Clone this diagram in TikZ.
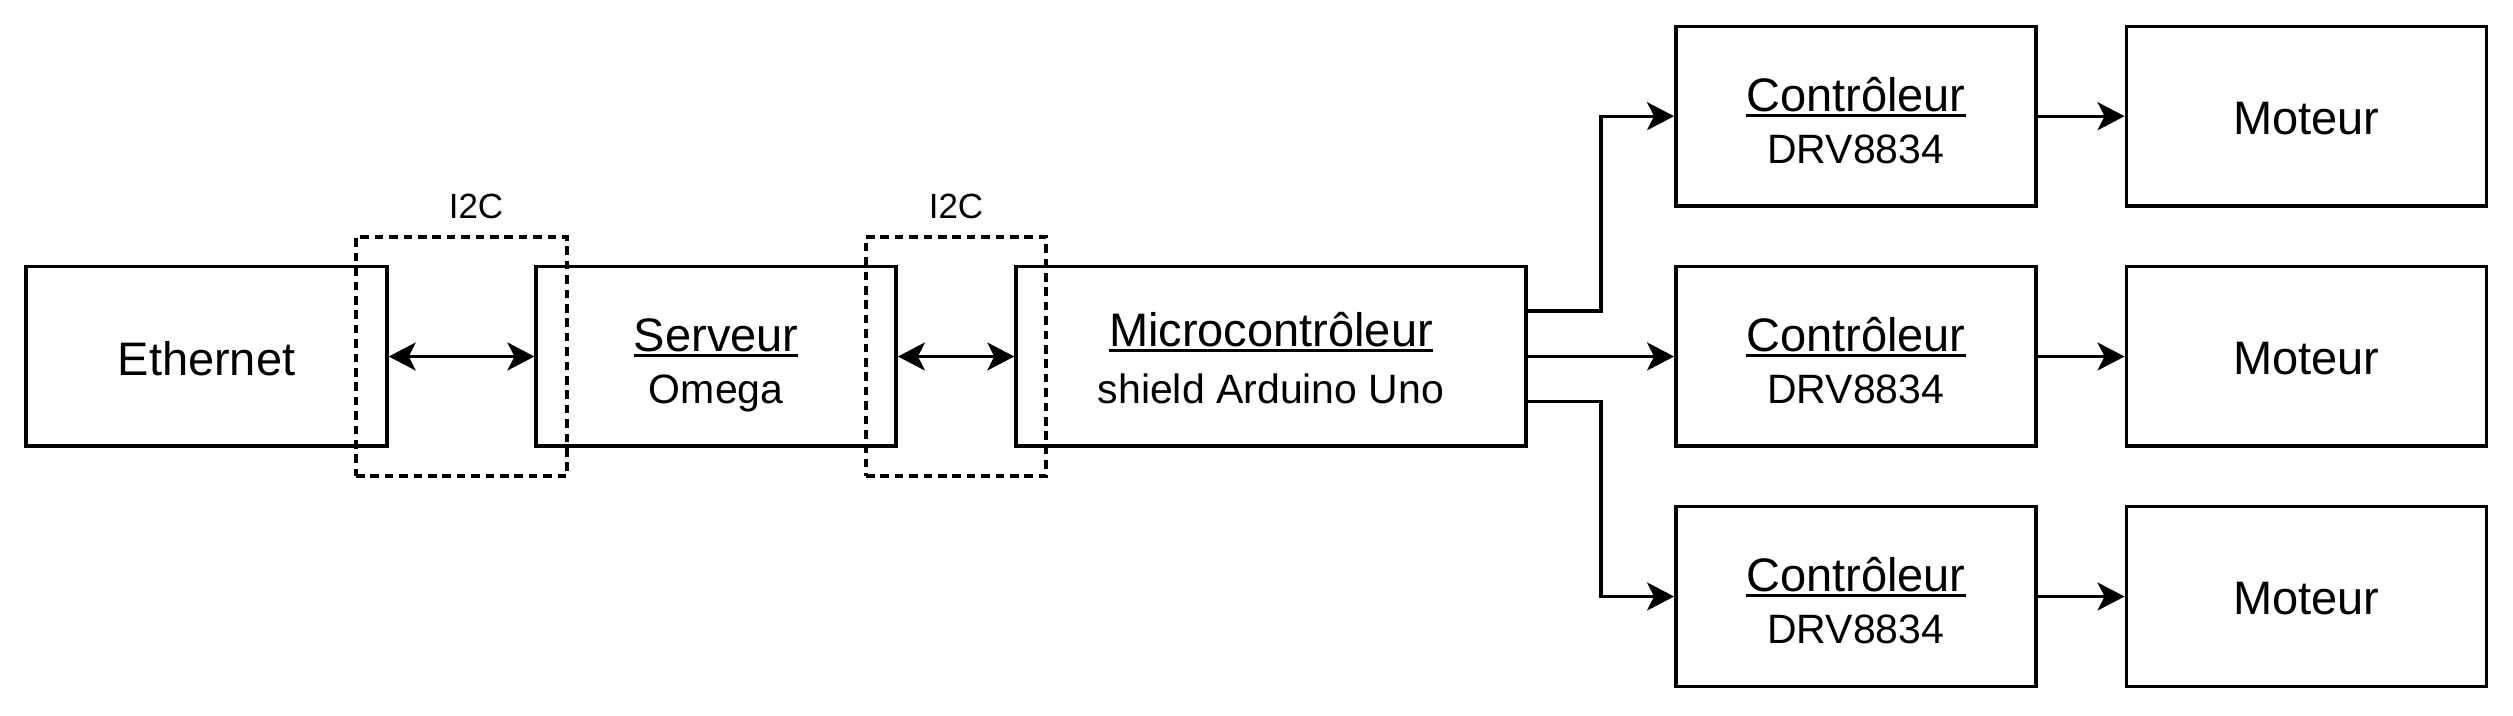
\documentclass[tikz,border=0pt]{standalone}
\usepackage{fontspec}
\setmainfont{Liberation Sans}
\usetikzlibrary{arrows.meta,calc}
\newcommand{\mainsz}{\fontsize{23.5pt}{26pt}\selectfont}
\newcommand{\subsz}{\fontsize{20.5pt}{26pt}\selectfont}
\newcommand{\ulbox}[1]{\setbox0\hbox{#1}\rlap{\rule[-2.9pt]{\wd0}{1.5pt}}\box0}
% #1 first line (underlined), #2 second line, #3 strut height, #4 extra gap
\newcommand{\twolines}[4]{\mainsz\rule{0pt}{#3}\ulbox{#1}\\[#4]\subsz\rule[-5pt]{0pt}{5pt}#2}
\newcommand{\lowered}[1]{\raisebox{-1pt}[\height][0pt]{#1}}
\tikzset{
  box/.style={draw, line width=1.75pt, minimum width=180pt, minimum height=89.75pt,
    inner sep=0pt, align=center, font=\mainsz},
  dbox/.style={draw, line width=1.6pt, dash pattern=on 4.3pt off 2.9pt, inner sep=0pt,
    minimum height=119.5pt},
  lbl/.style={font=\fontsize{17.5pt}{21pt}\selectfont, anchor=base, inner sep=0pt},
  tip/.tip={Stealth[length=13.5pt, width=14pt, inset=3.5pt]},
  arr/.style={line width=1.6pt, -tip},
  darr/.style={line width=1.6pt, tip-tip}
}
\begin{document}
\begin{tikzpicture}[x=0.5pt, y=-0.5pt]
\useasboundingbox (0,0) rectangle (2513,716);
% main row
\node[box, minimum width=180.5pt] (eth) at (206.5,356.5) {\lowered{Ethernet}};
\node[box] (srv) at (716.2,356.5) {\twolines{Serveur}{Omega}{26.05pt}{0pt}};
\node[box, minimum width=255pt] (mcu) at (1271,356.5) {\twolines{Microcontrôleur}{shield Arduino Uno}{23.55pt}{2.35pt}};
% dashed I2C frames
\node[dbox, minimum width=105.5pt] (d1) at (461.5,356.5) {};
\node[dbox, minimum width=90pt] (d2) at (956,356.5) {};
\node[lbl] (i1) at (476,219) {I2C};
\node[lbl] (i2) at (956,219) {I2C};
% controllers and motors
\node[box] (c1) at (1855.8,116.2) {\twolines{Contrôleur}{DRV8834}{26.05pt}{0pt}};
\node[box] (c2) at (1855.8,356.5) {\twolines{Contrôleur}{DRV8834}{26.05pt}{0pt}};
\node[box] (c3) at (1855.8,596.5) {\twolines{Contrôleur}{DRV8834}{26.05pt}{0pt}};
\node[box] (m1) at (2306.3,116.2) {\lowered{Moteur}};
\node[box] (m2) at (2306.3,356.5) {\lowered{Moteur}};
\node[box] (m3) at (2306.3,596.5) {\lowered{Moteur}};
% connectors
\draw[darr] (eth.east) -- (srv.west);
\draw[darr] (srv.east) -- (mcu.west);
\coordinate (s1) at ($(mcu.east)+(0,-45.5)$);
\coordinate (s3) at ($(mcu.east)+(0,45)$);
\coordinate (j) at (1601,0);
\draw[arr] (s1) -- (s1 -| j) |- (c1.west);
\draw[arr] (mcu.east) -- (c2.west);
\draw[arr] (s3) -- (s3 -| j) |- (c3.west);
\draw[arr] (c1.east) -- (c1.east -| m1.west);
\draw[arr] (c2.east) -- (c2.east -| m2.west);
\draw[arr] (c3.east) -- (c3.east -| m3.west);
\end{tikzpicture}
\end{document}
